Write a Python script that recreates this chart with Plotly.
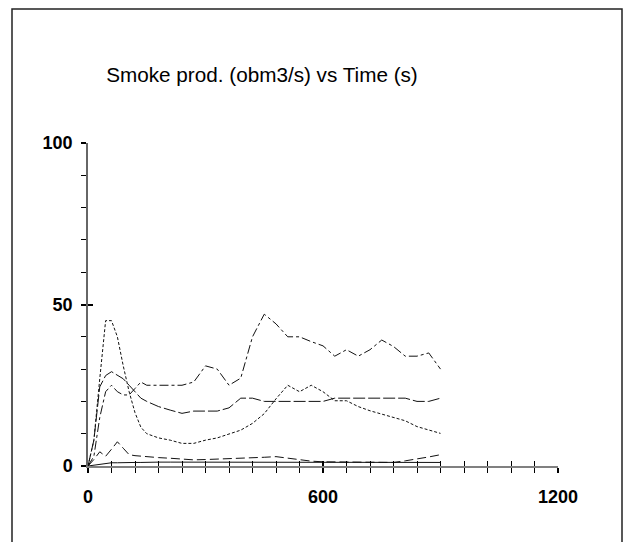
import plotly.graph_objects as go

# ---- data ----
time_s = [0, 15, 30, 45, 60, 75, 90, 105, 120, 135, 150, 180, 210, 240, 270, 300,
          330, 360, 390, 420, 450, 480, 510, 540, 570, 600, 630, 660, 690, 720,
          750, 780, 810, 840, 870, 900]

series_top = [0, 3, 15, 23, 25, 23, 22, 22, 24, 26, 25, 25, 25, 25, 26, 31,
              30, 25, 27.2, 40, 47, 44, 40, 40, 38.5, 37.2, 34, 36, 34, 36,
              39, 37, 34, 34, 35, 30]

series_longdash = [0, 8, 24.5, 28, 29.2, 28, 27, 25, 23, 21, 20, 18.4, 17.3, 16.3, 17, 17,
                   17, 18, 21, 21, 20, 20, 20, 20, 20, 20, 21, 21, 21, 21,
                   21, 21, 21, 20, 20, 21]

series_dotted = [0, 8, 27, 45, 45, 40, 31, 23, 16.5, 12, 10, 8.7, 8, 7, 7, 8,
                 8.7, 10, 11.1, 13.2, 16.2, 20.8, 25, 23, 25, 23, 20.2, 20.2, 18.4, 17.1,
                 16, 15, 14, 12.2, 11.1, 10.1]

series_small = [0, 2, 4.4, 3, 5.2, 7.5, 5.5, 3.5, 3.2, 3.0, 2.9, 2.6, 2.4, 2.2, 1.9, 2.0,
                2.1, 2.2, 2.4, 2.6, 2.7, 2.9, 2.4, 1.8, 1.5, 1.3, 1.3, 1.3, 1.2, 1.1,
                1.1, 1.1, 1.6, 2.1, 2.8, 3.5]

series_solid = [0, 0.3, 0.6, 0.8, 1.0, 1.0, 1.1, 1.1, 1.1, 1.1, 1.2, 1.2, 1.2, 1.2, 1.2, 1.2,
                1.2, 1.3, 1.3, 1.3, 1.3, 1.3, 1.3, 1.3, 1.3, 1.2, 1.2, 1.2, 1.2, 1.1,
                1.1, 1.1, 1.1, 1.1, 1.1, 1.1]

x_range = [0, 1200]
y_range = [0, 100]
title_text = "Smoke prod. (obm3/s) vs Time (s)"

FONT = "Liberation Sans, Arial, sans-serif"
LINE_COL = "#111111"

fig = go.Figure()

styles = [
    (series_solid, "solid"),
    (series_small, "9px,4px"),
    (series_top, "9px,3px,3px,3px"),
    (series_longdash, "12px,3px"),
    (series_dotted, "3px,2px"),
]
for ys, dash in styles:
    fig.add_trace(go.Scatter(x=time_s, y=ys, mode="lines",
                             line=dict(color=LINE_COL, width=1, dash=dash),
                             showlegend=False, hoverinfo="skip"))

# empty trace to realise the overlay axes (used for the inward half of the ticks)
fig.add_trace(go.Scatter(x=[], y=[], xaxis="x2", yaxis="y2", showlegend=False))

# the page body adds an 8px offset, so the figure is 8px smaller
OFF = 8
W, H = 631 - OFF, 542 - OFF
L, T = 88 - OFF, 143 - OFF
pw, ph = 470, 323
R, B = W - L - pw, H - T - ph

tickfont = dict(family=FONT, size=18, color="black", weight="bold")

fig.update_layout(
    width=W, height=H,
    margin=dict(l=L, r=R, t=T, b=B, pad=0),
    paper_bgcolor="white", plot_bgcolor="white",
    title=dict(text=title_text, x=(262 - OFF) / W, xref="container", xanchor="center",
               y=1 - (75 - OFF) / H, yref="container", yanchor="middle",
               font=dict(family=FONT, size=20.7, color="black")),
    xaxis=dict(range=x_range, tick0=0, dtick=600, ticks="outside", ticklen=5,
               tickwidth=1.5, tickcolor="black", showline=True, linecolor="#808080",
               linewidth=2, showgrid=False, zeroline=False, tickfont=tickfont,
               ticklabelstandoff=8,
               minor=dict(ticks="outside", tick0=0, dtick=60, ticklen=5, tickwidth=1,
                          tickcolor="black", showgrid=False)),
    xaxis2=dict(range=x_range, overlaying="x", anchor="y2", side="bottom",
                tick0=0, dtick=600, ticks="inside", ticklen=5, tickwidth=1.5,
                tickcolor="black", showline=False, showgrid=False, zeroline=False,
                showticklabels=False,
                minor=dict(ticks="inside", tick0=0, dtick=60, ticklen=5, tickwidth=1,
                           tickcolor="black", showgrid=False)),
    yaxis=dict(range=y_range, tick0=0, dtick=50, ticks="outside", ticklen=5,
               tickwidth=1.5, tickcolor="black", showline=True, linecolor="#666666",
               linewidth=1.5, showgrid=False, zeroline=False, tickfont=tickfont,
               ticklabelstandoff=5,
               minor=dict(ticks="outside", tick0=0, dtick=10, ticklen=5, tickwidth=1,
                          tickcolor="black", showgrid=False)),
    yaxis2=dict(range=y_range, overlaying="y", anchor="x2", side="left",
                tick0=0, dtick=50, ticks="inside", ticklen=5, tickwidth=1.5,
                tickcolor="black", showline=False, showgrid=False, zeroline=False,
                showticklabels=False),
    shapes=[dict(type="rect", xref="paper", yref="paper",
                 x0=(12 - OFF - L) / pw, x1=(622 - OFF - L) / pw,
                 y0=(T + ph - 560) / ph, y1=(T + ph - (8 - OFF) - 1) / ph,
                 line=dict(color="#222222", width=1.5), fillcolor="rgba(0,0,0,0)",
                 layer="below")],
)

fig.write_html("out.html")
